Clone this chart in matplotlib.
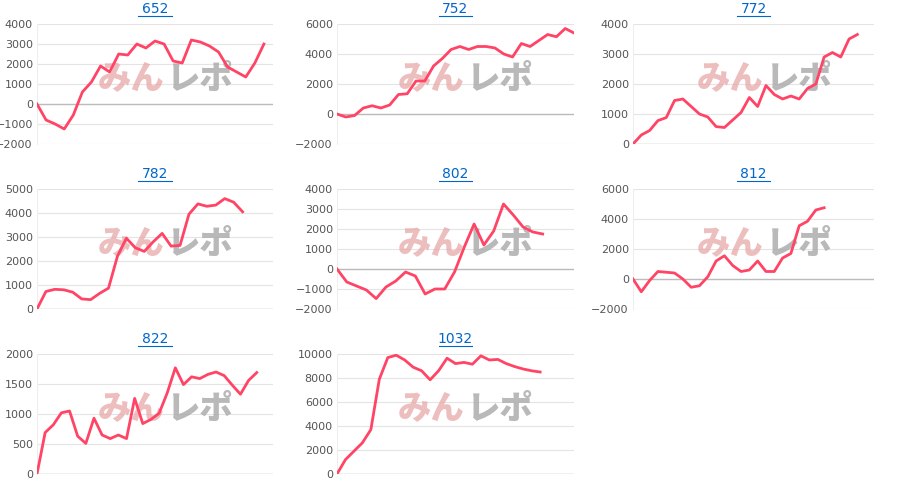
import matplotlib
matplotlib.use("Agg")
import matplotlib.pyplot as plt

titles = ["652", "752", "772", "782", "802", "812", "822", "1032"]
s652 = [0, -800, -1000, -1250, -550, 600, 1100, 1900, 1600, 2500, 2450, 3000, 2800, 3150, 3000, 2150, 2050, 3200, 3100, 2900, 2600, 1850, 1600, 1350, 2050, 3000]
s752 = [0, -200, -100, 400, 550, 400, 600, 1300, 1350, 2200, 2200, 3200, 3700, 4300, 4500, 4300, 4500, 4500, 4400, 4000, 3800, 4700, 4500, 4900, 5300, 5150, 5700, 5400]
s772 = [0, 300, 450, 780, 880, 1450, 1500, 1250, 1000, 900, 580, 550, 800, 1050, 1550, 1250, 1950, 1650, 1500, 1600, 1500, 1850, 2000, 2900, 3050, 2900, 3500, 3650]
s782 = [0, 730, 820, 800, 700, 420, 390, 650, 870, 2200, 2950, 2550, 2400, 2800, 3150, 2620, 2650, 3950, 4380, 4280, 4330, 4600, 4450, 4050]
s802 = [0, -650, -850, -1050, -1480, -900, -600, -150, -350, -1250, -1000, -1000, -150, 1100, 2250, 1200, 1900, 3250, 2700, 2100, 1850, 1750]
s812 = [0, -850, -100, 500, 450, 400, 0, -550, -450, 150, 1200, 1550, 900, 500, 600, 1200, 500, 500, 1400, 1700, 3550, 3850, 4600, 4750]
s822 = [0, 690, 820, 1020, 1050, 630, 510, 930, 650, 590, 650, 590, 1260, 840, 910, 1010, 1350, 1770, 1490, 1620, 1590, 1660, 1700, 1640, 1480, 1330, 1560, 1690]
s1032 = [0, 1200, 1900, 2600, 3700, 7900, 9700, 9900, 9500, 8900, 8600, 7850, 8600, 9650, 9200, 9300, 9150, 9850, 9500, 9550, 9200, 8950, 8750, 8600, 8500]
series = [s652, s752, s772, s782, s802, s812, s822, s1032]
xmax = [26, 27, 29, 26.4, 24.2, 29, 29, 28]
ylims = [(-2000, 4000, 1000), (-2000, 6000, 2000), (0, 4000, 1000), (0, 5000, 1000),
         (-2000, 4000, 1000), (-2000, 6000, 2000), (0, 2000, 500), (0, 10000, 2000)]

W, H = 900, 495
fig = plt.figure(figsize=(9, 4.95), dpi=100)
cols = [(37, 273), (337, 574), (633, 874)]
rows = [(24, 144), (189, 309), (354, 474)]
jp = ['Noto Sans CJK JP', 'DejaVu Sans']
for i, (t, s) in enumerate(zip(titles, series)):
    r, c = divmod(i, 3)
    x0, x1 = cols[c]
    y0, y1 = rows[r]
    ax = fig.add_axes([x0 / W, 1 - y1 / H, (x1 - x0) / W, (y1 - y0) / H])
    lo, hi, st = ylims[i]
    ax.set_ylim(lo, hi)
    ax.set_xlim(0, xmax[i])
    ax.set_yticks(range(lo, hi + 1, st))
    ax.set_xticks([])
    ax.grid(axis='y', color='#e4e4e4', lw=0.8)
    ax.axhline(0, color='#bbbbbb', lw=1, zorder=1)
    for sp in ['top', 'right', 'bottom']:
        ax.spines[sp].set_visible(False)
    ax.spines['left'].set_color('#eeeeee')
    ax.tick_params(axis='y', length=0, labelsize=8, labelcolor='#555555', pad=3)
    ax.set_axisbelow(True)
    ax.text(0.54, 0.55, "みん", transform=ax.transAxes, fontsize=24, fontweight='black',
            color='#e8a8a8', alpha=0.75, family=jp, ha='right', va='center', zorder=1)
    ax.text(0.55, 0.55, "レポ", transform=ax.transAxes, fontsize=24, fontweight='black',
            color='#a8a8a8', alpha=0.8, family=jp, ha='left', va='center', zorder=1)
    ax.plot(range(len(s)), s, color='#ff4466', lw=2, zorder=3)
    fig.text((x0 + x1) / 2 / W, 1 - (y0 - 15) / H, t, ha='center', va='center',
             fontsize=10, color='#0066cc')
    ax.plot([0.43, 0.57], [1.065, 1.065], transform=ax.transAxes, color='#0066cc', lw=0.8, clip_on=False)

fig.savefig("out.png", dpi=100, facecolor='white')
